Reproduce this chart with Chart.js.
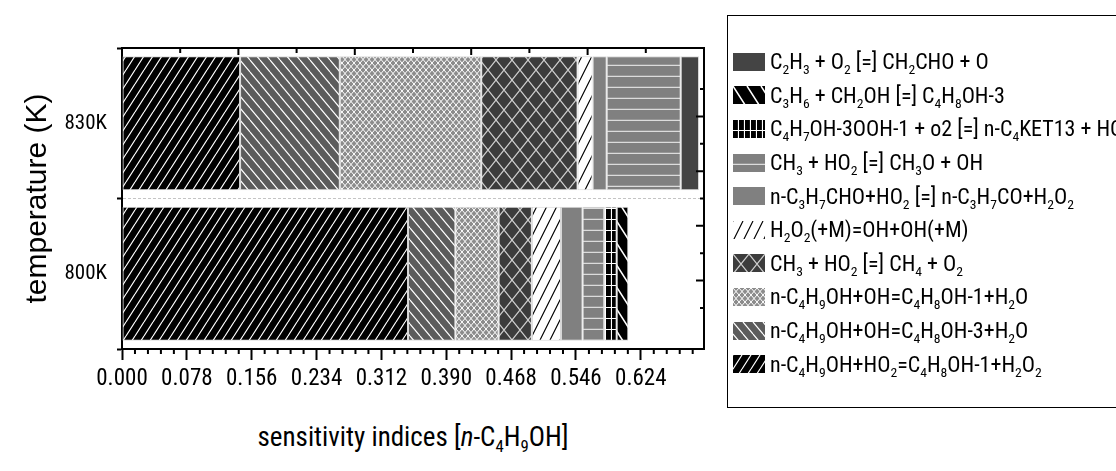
<!DOCTYPE html>
<html>
<head>
<meta charset="utf-8">
<script src="https://cdn.jsdelivr.net/npm/chart.js@4.4.1/dist/chart.umd.min.js"></script>
<style>
  html, body { margin: 0; padding: 0; background: #fff; }
  body { width: 1116px; height: 471px; position: relative; overflow: hidden;
         font-family: "Roboto Condensed", "Liberation Sans Narrow", sans-serif; color: #000; }
  #chart { position: absolute; left: 0; top: 0; }
  #xtitle { position: absolute; left: 113px; width: 600px; top: 420px; text-align: center;
            font-size: 27px; line-height: 34px; }
  #legend { position: absolute; left: 727px; top: 15px; width: 430px; height: 393px;
            border: 1px solid #000; box-sizing: border-box; padding-top: 29px; }
  .item { height: 33.6px; display: flex; align-items: center; font-size: 22px; white-space: nowrap; }
  .item canvas { margin-left: 5px; margin-right: 5px; flex: none; }
  sub { font-size: 0.62em; vertical-align: -0.34em; line-height: 0; }
</style>
</head>
<body>
<canvas id="chart" width="716" height="400"></canvas>
<div id="xtitle">sensitivity indices [<i>n</i>-C<sub>4</sub>H<sub>9</sub>OH]</div>
<div id="legend"></div>
<script>
// categories (top to bottom)
const temperatures = ['830K', '800K'];

// reactions in stacking order (left to right in the bars)
const reactions = [
  'n-C<sub>4</sub>H<sub>9</sub>OH+HO<sub>2</sub>=C<sub>4</sub>H<sub>8</sub>OH-1+H<sub>2</sub>O<sub>2</sub>',
  'n-C<sub>4</sub>H<sub>9</sub>OH+OH=C<sub>4</sub>H<sub>8</sub>OH-3+H<sub>2</sub>O',
  'n-C<sub>4</sub>H<sub>9</sub>OH+OH=C<sub>4</sub>H<sub>8</sub>OH-1+H<sub>2</sub>O',
  'CH<sub>3</sub> + HO<sub>2</sub> [=] CH<sub>4</sub> + O<sub>2</sub>',
  'H<sub>2</sub>O<sub>2</sub>(+M)=OH+OH(+M)',
  'n-C<sub>3</sub>H<sub>7</sub>CHO+HO<sub>2</sub> [=] n-C<sub>3</sub>H<sub>7</sub>CO+H<sub>2</sub>O<sub>2</sub>',
  'CH<sub>3</sub> + HO<sub>2</sub> [=] CH<sub>3</sub>O + OH',
  'C<sub>4</sub>H<sub>7</sub>OH-3OOH-1 + o2 [=] n-C<sub>4</sub>KET13 + HO<sub>2</sub>',
  'C<sub>3</sub>H<sub>6</sub> + CH<sub>2</sub>OH [=] C<sub>4</sub>H<sub>8</sub>OH-3',
  'C<sub>2</sub>H<sub>3</sub> + O<sub>2</sub> [=] CH<sub>2</sub>CHO + O'
];

// sensitivity indices per reaction
const sens830K = [0.142, 0.120, 0.170, 0.116, 0.018, 0.017, 0.089, 0, 0, 0.022];
const sens800K = [0.344, 0.057, 0.052, 0.040, 0.035, 0.026, 0.026, 0.015, 0.014, 0];

// axis ticks
const xTicks = [0, 0.078, 0.156, 0.234, 0.312, 0.390, 0.468, 0.546, 0.624];
const xMax = 0.7;

const NARROW = '"Roboto Condensed", "Liberation Sans Narrow", sans-serif';

// hatch patterns
function makeTile(w, h, bg, fg, lw, draw) {
  const c = document.createElement('canvas');
  c.width = w; c.height = h;
  const g = c.getContext('2d');
  g.fillStyle = bg;
  g.fillRect(0, 0, w, h);
  g.strokeStyle = fg;
  g.lineWidth = lw;
  g.beginPath();
  draw(g, w, h);
  g.stroke();
  return g.createPattern(c, 'repeat');
}
const fwd = (g, w, h) => { for (let k = -1; k <= 1; k++) { g.moveTo(k * w, h); g.lineTo(k * w + w, 0); } };
const back = (g, w, h) => { for (let k = -1; k <= 1; k++) { g.moveTo(k * w, 0); g.lineTo(k * w + w, h); } };
const cross = (g, w, h) => { fwd(g, w, h); back(g, w, h); };
const horiz = (g, w, h) => { g.moveTo(0, h - 0.5); g.lineTo(w, h - 0.5); };
const grid = (g, w, h) => { horiz(g, w, h); g.moveTo(w - 0.5, 0); g.lineTo(w - 0.5, h); };

const fills = [
  makeTile(9, 14, '#000', '#fff', 1.2, fwd),
  makeTile(10, 12, '#5c5c5c', '#fff', 1.2, back),
  makeTile(6, 7, '#8c8c8c', '#fff', 1, cross),
  makeTile(16, 20, '#3c3c3c', '#cfcfcf', 1.2, cross),
  makeTile(10, 20, '#fff', '#000', 1.2, fwd),
  '#808080',
  makeTile(8, 11, '#808080', '#dcdcdc', 1.5, horiz),
  makeTile(6, 11, '#000', '#fff', 1.2, grid),
  makeTile(14, 22, '#000', '#fff', 1.5, back),
  '#444444'
];

const datasets = reactions.map((r, i) => ({
  label: r.replace(/<[^>]+>/g, ''),
  data: [sens830K[i], sens800K[i]],
  backgroundColor: fills[i],
  borderColor: '#d8d8d8',
  borderWidth: c => (c.raw ? 1 : 0),
  borderSkipped: false,
  barPercentage: 0.89,
  categoryPercentage: 1
}));

// extra ticks: minor on bottom, inward ticks on top and right
const frameTicks = {
  id: 'frameTicks',
  afterDraw(chart) {
    const { ctx, chartArea: a, scales } = chart;
    ctx.save();
    ctx.strokeStyle = '#000';
    ctx.lineWidth = 2;
    ctx.beginPath();
    for (let i = 1; i * 0.0156 < xMax; i++) {
      if (i % 5 === 0) continue;
      const x = scales.x.getPixelForValue(i * 0.0156);
      ctx.moveTo(x, a.bottom); ctx.lineTo(x, a.bottom + 5);
    }
    for (let i = 1; i < 10; i++) {
      const x = scales.x2.getPixelForValue(i * 0.07);
      ctx.moveTo(x, a.top); ctx.lineTo(x, a.top + (i % 2 ? 5 : 7));
      const y = scales.y2.getPixelForValue(i);
      ctx.moveTo(a.right, y); ctx.lineTo(a.right - (i % 2 ? 4 : 8), y);
    }
    ctx.stroke();
    ctx.restore();
  }
};

const ctx = document.getElementById('chart').getContext('2d');
new Chart(ctx, {
  type: 'bar',
  data: { labels: temperatures, datasets: datasets },
  options: {
    indexAxis: 'y',
    responsive: false,
    animation: false,
    layout: { padding: 0 },
    plugins: { legend: { display: false }, tooltip: { enabled: false } },
    scales: {
      x: {
        type: 'linear', position: 'bottom', stacked: true, min: 0, max: xMax,
        afterBuildTicks: s => { s.ticks = xTicks.map(v => ({ value: v })); },
        afterFit: s => { s.height = 51; },
        ticks: { padding: 5, color: '#000', font: { family: NARROW, size: 23 },
                 maxRotation: 0, autoSkip: false, callback: v => v.toFixed(3) },
        grid: { drawOnChartArea: false, tickLength: 11, tickWidth: 2, tickColor: '#000' },
        border: { color: '#000', width: 2 }
      },
      x2: {
        type: 'linear', position: 'top', min: 0, max: xMax,
        afterFit: s => { s.height = 48; },
        ticks: { display: false },
        grid: { display: false },
        border: { color: '#000', width: 2 }
      },
      y: {
        type: 'category', position: 'left', stacked: true, offset: true,
        afterFit: s => { s.width = 122; },
        ticks: { padding: 10, color: '#000', font: { family: NARROW, size: 21 } },
        grid: { color: '#c4c4c4', offset: true, tickLength: 5, tickWidth: 2, tickColor: '#000' },
        border: { color: '#000', width: 2, dash: [3, 2] },
        title: { display: true, text: 'temperature (K)', color: '#000',
                 font: { family: '"Liberation Sans", Arial, sans-serif', size: 30 },
                 padding: { top: 20, bottom: 0 } }
      },
      y2: {
        type: 'linear', position: 'right', min: 0, max: 10,
        afterFit: s => { s.width = 12; },
        ticks: { display: false },
        grid: { display: false },
        border: { color: '#000', width: 2 }
      }
    }
  },
  plugins: [frameTicks]
});

// legend (top entry = last stacked reaction)
const legend = document.getElementById('legend');
for (let i = reactions.length - 1; i >= 0; i--) {
  const row = document.createElement('div');
  row.className = 'item';
  const sw = document.createElement('canvas');
  sw.width = 32; sw.height = 18;
  const g = sw.getContext('2d');
  g.fillStyle = fills[i];
  g.fillRect(0, 0, 32, 18);
  const txt = document.createElement('span');
  txt.innerHTML = reactions[i];
  row.appendChild(sw);
  row.appendChild(txt);
  legend.appendChild(row);
}
</script>
</body>
</html>
